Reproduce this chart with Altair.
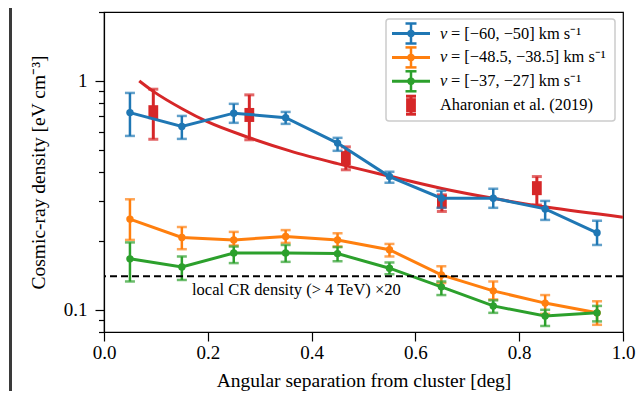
import altair as alt
import pandas as pd

# ---------------- data ----------------
x_bins = [0.05, 0.15, 0.25, 0.35, 0.45, 0.55, 0.65, 0.75, 0.85, 0.95]

blue_v  = [0.727, 0.632, 0.723, 0.691, 0.535, 0.382, 0.3075, 0.3075, 0.276, 0.217]
blue_lo = [0.575, 0.558, 0.656, 0.649, 0.495, 0.359, 0.279, 0.279, 0.247, 0.192]
blue_hi = [0.886, 0.703, 0.794, 0.732, 0.564, 0.401, 0.331, 0.338, 0.299, 0.245]

orange_v  = [0.249, 0.207, 0.202, 0.209, 0.202, 0.183, 0.142, 0.121, 0.107, 0.097]
orange_lo = [0.202, 0.184, 0.191, 0.196, 0.189, 0.171, 0.131, 0.111, 0.096, 0.086]
orange_hi = [0.304, 0.230, 0.219, 0.223, 0.216, 0.194, 0.155, 0.133, 0.116, 0.109]

green_v  = [0.167, 0.154, 0.177, 0.177, 0.176, 0.152, 0.126, 0.104, 0.094, 0.097]
green_lo = [0.133, 0.135, 0.160, 0.162, 0.163, 0.143, 0.116, 0.097, 0.085, 0.089]
green_hi = [0.197, 0.171, 0.189, 0.192, 0.188, 0.161, 0.133, 0.110, 0.100, 0.104]

aha_x  = [0.095, 0.28, 0.466, 0.651, 0.834]
aha_v  = [0.73, 0.71, 0.46, 0.297, 0.34]
aha_lo = [0.556, 0.553, 0.409, 0.269, 0.287]
aha_hi = [0.92, 0.869, 0.515, 0.318, 0.382]

model_x = [0.068, 0.095, 0.153, 0.198, 0.28, 0.358, 0.45, 0.551, 0.651, 0.75, 0.852, 1.0]
model_v = [1.0, 0.90, 0.75, 0.665, 0.565, 0.495, 0.435, 0.383, 0.339, 0.307, 0.281, 0.254]

local_cr = [0.14]
note_x, note_v = [0.1696], [0.1223]
note_text = ["local CR density (> 4 TeV) ×20"]

x_ticks = [0.0, 0.2, 0.4, 0.6, 0.8, 1.0]
y_ticks = [0.08, 0.09, 0.1, 0.2, 0.3, 0.4, 0.5, 0.6, 0.7, 0.8, 0.9, 1.0, 2.0]

legend_labels = ["= [−60, −50] km s⁻¹", "= [−48.5, −38.5] km s⁻¹",
                 "= [−37, −27] km s⁻¹", "Aharonian et al. (2019)"]
colors = ["#1f77b4", "#ff7f0e", "#2ca02c", "#d62728"]

# ---------------- chart ----------------
W, H = 519, 320
FONT = "Liberation Serif"

xs = alt.Scale(domain=[0, 1])
ys = alt.Scale(type="log", domain=[0.08, 2.0])
x_axis = alt.Axis(values=x_ticks, format=".1f", title="Angular separation from cluster [deg]",
                  tickSize=9, labelPadding=2, titlePadding=9, grid=False, labelFlush=False)
y_axis = alt.Axis(values=y_ticks,
                  labelExpr="datum.value == 1 ? '1' : (datum.value == 0.1 ? '0.1' : '')",
                  tickSize={"condition": {"test": "datum.value == 1 || datum.value == 0.1", "value": 9},
                            "value": 5.5},
                  title="Cosmic-ray density [eV cm⁻³]", labelPadding=8, titlePadding=15,
                  grid=False, labelFlush=False, labelOverlap=False)


def X(f):
    return alt.X(f, type="quantitative", scale=xs, axis=x_axis)


def Y(f):
    return alt.Y(f, type="quantitative", scale=ys, axis=y_axis)


layers = []

# model curve and Aharonian points (drawn first)
model_df = pd.DataFrame({"x": model_x, "v": model_v})
layers.append(alt.Chart(model_df).mark_line(color=colors[3], strokeWidth=3, interpolate="monotone")
              .encode(x=X("x"), y=Y("v")))
aha_df = pd.DataFrame({"x": aha_x, "v": aha_v, "lo": aha_lo, "hi": aha_hi})
layers.append(alt.Chart(aha_df).mark_rule(color=colors[3], strokeWidth=3)
              .encode(x=X("x"), y=Y("lo"), y2="hi"))
for f in ["lo", "hi"]:
    layers.append(alt.Chart(aha_df).mark_tick(color=colors[3], orient="horizontal", size=10, thickness=3)
                  .encode(x=X("x"), y=Y(f)))
layers.append(alt.Chart(aha_df).mark_point(filled=True, opacity=1, color=colors[3],
                                           shape="M-0.7,-1H0.7V1H-0.7Z", size=196)
              .encode(x=X("x"), y=Y("v")))

# the three velocity series
for vals, lo, hi, col in [(blue_v, blue_lo, blue_hi, colors[0]),
                          (orange_v, orange_lo, orange_hi, colors[1]),
                          (green_v, green_lo, green_hi, colors[2])]:
    df = pd.DataFrame({"x": x_bins, "v": vals, "lo": lo, "hi": hi})
    layers.append(alt.Chart(df).mark_line(color=col, strokeWidth=3).encode(x=X("x"), y=Y("v")))
    layers.append(alt.Chart(df).mark_rule(color=col, strokeWidth=2.5).encode(x=X("x"), y=Y("lo"), y2="hi"))
    for f in ["lo", "hi"]:
        layers.append(alt.Chart(df).mark_tick(color=col, orient="horizontal", size=10, thickness=2.5)
                      .encode(x=X("x"), y=Y(f)))
    layers.append(alt.Chart(df).mark_point(filled=True, opacity=1, color=col, shape="circle", size=55)
                  .encode(x=X("x"), y=Y("v")))

# local CR density line and note
layers.append(alt.Chart(pd.DataFrame({"v": local_cr})).mark_rule(color="black", strokeWidth=2,
                                                                    strokeDash=[7, 4])
              .encode(y=Y("v")))
layers.append(alt.Chart(pd.DataFrame({"x": note_x, "v": note_v, "t": note_text}))
              .mark_text(font=FONT, fontSize=16.5, align="left", baseline="middle", color="black")
              .encode(x=X("x"), y=Y("v"), text="t:N"))

# legend (manual, to get the errorbar glyphs and the italic v)
one = pd.DataFrame({"a": [0]})
layers.append(alt.Chart(one).mark_rect(fill="white", stroke="#cccccc", strokeWidth=1.5, cornerRadius=3)
              .encode(x=alt.value(282), x2=alt.value(511), y=alt.value(7), y2=alt.value(109)))
for i, (lab, col) in enumerate(zip(legend_labels, colors)):
    yc = 21.5 + 23.9 * i
    if i < 3:
        layers.append(alt.Chart(one).mark_rule(color=col, strokeWidth=3)
                      .encode(x=alt.value(288), x2=alt.value(326), y=alt.value(yc)))
        layers.append(alt.Chart(one).mark_rule(color=col, strokeWidth=2.5)
                      .encode(x=alt.value(307), y=alt.value(yc - 10), y2=alt.value(yc + 10)))
        for d in (-10, 10):
            layers.append(alt.Chart(one).mark_rule(color=col, strokeWidth=2.5)
                          .encode(x=alt.value(301.5), x2=alt.value(312.5), y=alt.value(yc + d)))
        layers.append(alt.Chart(one).mark_point(filled=True, opacity=1, color=col, shape="circle", size=55)
                      .encode(x=alt.value(307), y=alt.value(yc)))
        layers.append(alt.Chart(one).mark_text(font=FONT, fontSize=16.4, fontStyle="italic", align="left",
                                               baseline="middle", color="black", text="v")
                      .encode(x=alt.value(336), y=alt.value(yc)))
        layers.append(alt.Chart(one).mark_text(font=FONT, fontSize=16.4, align="left",
                                               baseline="middle", color="black", text=lab)
                      .encode(x=alt.value(347), y=alt.value(yc)))
    else:
        layers.append(alt.Chart(one).mark_rule(color=col, strokeWidth=3)
                      .encode(x=alt.value(307), y=alt.value(yc - 9), y2=alt.value(yc + 9)))
        for d in (-9, 9):
            layers.append(alt.Chart(one).mark_rule(color=col, strokeWidth=3)
                          .encode(x=alt.value(302), x2=alt.value(312), y=alt.value(yc + d)))
        layers.append(alt.Chart(one).mark_point(filled=True, opacity=1, color=col,
                                                shape="M-0.7,-1H0.7V1H-0.7Z", size=196)
                      .encode(x=alt.value(307), y=alt.value(yc)))
        layers.append(alt.Chart(one).mark_text(font=FONT, fontSize=16.4, align="left",
                                               baseline="middle", color="black", text=lab)
                      .encode(x=alt.value(336), y=alt.value(yc)))

# page frame bar at the far left
layers.append(alt.Chart(one).mark_rule(color="#3a3a3a", strokeWidth=3)
              .encode(x=alt.value(-93.5), y=alt.value(-4), y2=alt.value(380)))

chart = alt.layer(*layers).properties(
    width=W, height=H,
    padding={"left": 96, "top": 4, "right": 13, "bottom": 59},
    autosize=alt.AutoSizeParams(type="none"),
).configure_view(stroke="black", strokeWidth=1.2).configure_axis(
    labelFont=FONT, titleFont=FONT, labelFontSize=19, titleFontSize=19.5,
    labelColor="black", titleColor="black", tickColor="black", domainColor="black",
    titleFontWeight="normal", tickWidth=1.2, domainWidth=1.2,
)

chart.save("out.html", embed_options={"renderer": "svg", "actions": False})
